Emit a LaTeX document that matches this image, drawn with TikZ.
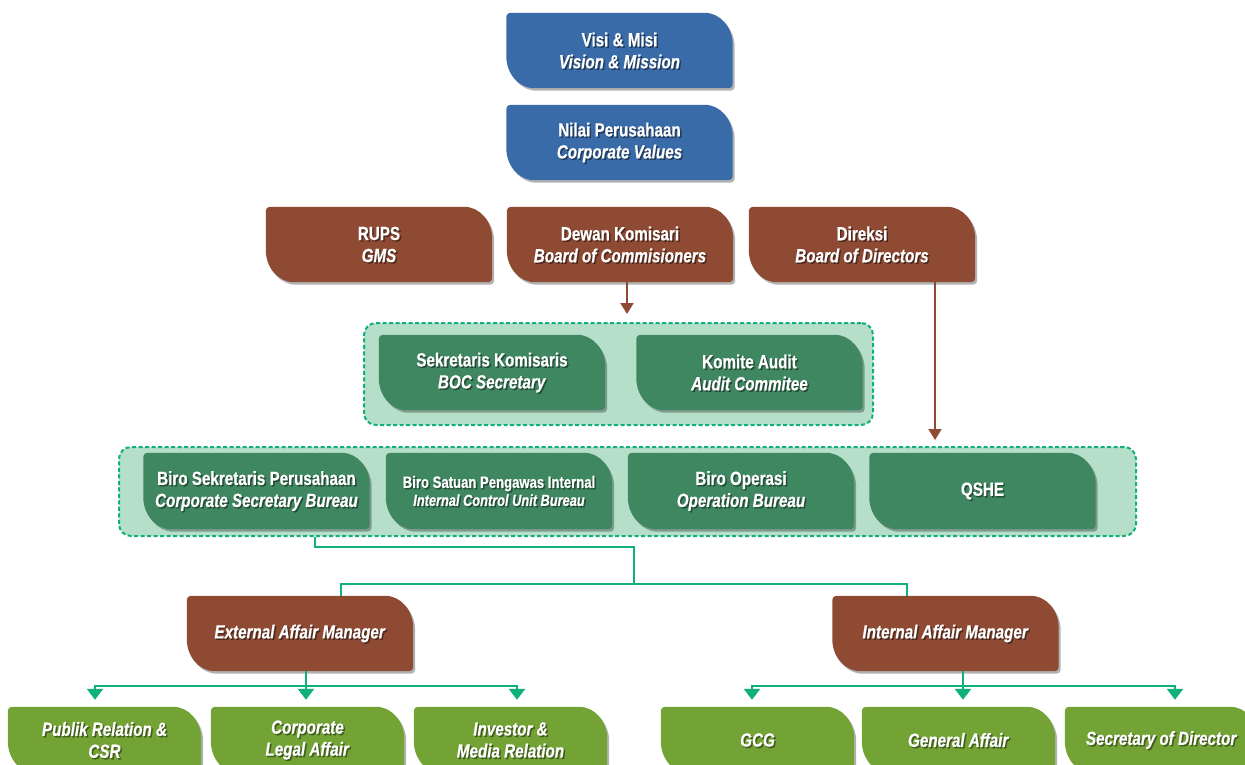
\documentclass[tikz,border=0pt]{standalone}
\usepackage{fontspec}
\setmainfont{Liberation Sans}[FakeStretch=0.80,BoldFeatures={FakeBold=0.6},BoldItalicFeatures={FakeBold=0.6}]
\usetikzlibrary{shadows,arrows.meta,calc}
\definecolor{cblue}{HTML}{3A6BA9}
\definecolor{cbrown}{HTML}{8F4A34}
\definecolor{cdgreen}{HTML}{3F8761}
\definecolor{clgreen}{HTML}{72A334}
\definecolor{cline}{HTML}{10B07A}
\definecolor{cgroup}{HTML}{B5DFC9}
\pgfdeclarelayer{grp}\pgfdeclarelayer{shape}
\pgfsetlayers{grp,shape,main}
\newcommand\leaf[2]{%
\fill[#2, drop shadow={shadow xshift=2pt,shadow yshift=-2.5pt,opacity=0.3,fill=black}]
 let \p1=(#1.north west), \p2=(#1.south east) in
 ({\x1+4pt},\y1) -- ({\x2-28pt},\y1) .. controls ({\x2-12.5pt},\y1) and (\x2,{\y1-14.5pt}) .. (\x2,{\y1-32pt})
 -- (\x2,{\y2+4pt}) .. controls (\x2,{\y2+1.8pt}) and ({\x2-1.8pt},\y2) .. ({\x2-4pt},\y2)
 -- ({\x1+28pt},\y2) .. controls ({\x1+12.5pt},\y2) and (\x1,{\y2+14.5pt}) .. (\x1,{\y2+32pt})
 -- (\x1,{\y1-4pt}) .. controls (\x1,{\y1-1.8pt}) and ({\x1+1.8pt},\y1) .. ({\x1+4pt},\y1) -- cycle;}
% #1 options, #2 name, #3 position, #4 colour, #5 text
\newcommand\bx[5][]{%
 \node[box,#1] (#2) at #3 {#5};
 \begin{pgfonlayer}{shape}
 \leaf{#2}{#4}
 \node[box,#1,text=black,text opacity=0.4] (#2-s) at ([shift={(1.5pt,-1.5pt)}]#2.center) {#5};
 \end{pgfonlayer}}
\tikzset{
 box/.style={minimum width=226pt, minimum height=75pt, inner sep=0pt, align=center, text=white,
   font=\bfseries\fontsize{19}{22}\selectfont},
 sbox/.style={minimum width=193pt, minimum height=66pt},
 tall/.style={minimum height=76pt},
 grpbox/.style={draw=cline, fill=cgroup, line width=2pt, dash pattern=on 4pt off 2.5pt,
   rounded corners=12pt, inner sep=0pt},
 brarrow/.style={draw=cbrown, line width=2pt, -{Triangle[width=13pt,length=11pt]}},
 gline/.style={draw=cline, line width=2.5pt},
 garrow/.style={gline, -{Triangle[width=16pt,length=11pt]}, shorten >=7pt},
}
\begin{document}
\begin{tikzpicture}[x=1pt,y=-1pt]
\useasboundingbox (0,0) rectangle (1245,765);
\begin{pgfonlayer}{grp}
\node[grpbox, minimum width=509pt, minimum height=102pt] (g1) at (618.5,374) {};
\node[grpbox, minimum width=1017pt, minimum height=89pt] (g2) at (627.5,491.5) {};
\end{pgfonlayer}
% blue
\bx{vm}{(619.5,50.5)}{cblue}{Visi \& Misi\\\textit{Vision \& Mission}}
\bx{nv}{(619.5,142.5)}{cblue}{Nilai Perusahaan\\\textit{Corporate Values}}
% brown
\bx{rups}{(379,244.5)}{cbrown}{RUPS\\\textit{GMS}}
\bx{dk}{(620,244.5)}{cbrown}{Dewan Komisari\\\textit{Board of Commisioners}}
\bx{dr}{(862,244.5)}{cbrown}{Direksi\\\textit{Board of Directors}}
% group 1
\bx{sk}{(492,372.5)}{cdgreen}{Sekretaris Komisaris\\\textit{BOC Secretary}}
\bx{ka}{(749.5,372.5)}{cdgreen}{Komite Audit\\\textit{Audit Commitee}}
% group 2
\bx[tall]{bs}{(256.5,491)}{cdgreen}{Biro Sekretaris Perusahaan\\\textit{Corporate Secretary Bureau}}
\bx[tall, font=\bfseries\fontsize{16.4}{18}\selectfont]{bsp}{(499,491)}{cdgreen}{Biro Satuan Pengawas Internal\\\textit{\fontsize{16}{18}\selectfont Internal Control Unit Bureau}}
\bx[tall]{bo}{(741,491)}{cdgreen}{Biro Operasi\\\textit{Operation Bureau}}
\bx[tall]{qs}{(982.5,491)}{cdgreen}{QSHE}
% managers
\bx{em}{(300,633.5)}{cbrown}{\textit{External Affair Manager}}
\bx{im}{(945.5,633.5)}{cbrown}{\textit{Internal Affair Manager}}
% bottom
\bx[sbox]{pr}{(104.5,740)}{clgreen}{\textit{Publik Relation \&}\\\textit{CSR}}
\bx[sbox]{cl}{(307.5,740)}{clgreen}{\textit{Corporate}\\\textit{Legal Affair}}
\bx[sbox]{ir}{(510.5,740)}{clgreen}{\textit{Investor \&}\\\textit{Media Relation}}
\bx[sbox]{gcg}{(757.5,740)}{clgreen}{\textit{GCG}}
\bx[sbox]{ga}{(958.5,740)}{clgreen}{\textit{General Affair}}
\bx[sbox]{sd}{(1161.5,740)}{clgreen}{\textit{Secretary of Director}}
% brown arrows
\draw[brarrow, shorten >=8pt] ([xshift=7pt]dk.south) -- ([xshift=7pt]dk.south |- g1.north);
\draw[brarrow, shorten >=6pt] ([xshift=73pt]dr.south) -- ([xshift=73pt]dr.south |- g2.north);
% green connectors
\coordinate (j1) at (634,584);
\draw[gline] ([xshift=-312.5pt]g2.south) -- ++(0,10) -| (j1);
\draw[gline] ([xshift=41pt]em.north) |- (j1) -| ([xshift=-38.5pt]im.north);
\coordinate (e1) at (306,686);
\coordinate (i1) at (963,686);
\draw[gline] ([xshift=6pt]em.south) -- (e1);
\draw[gline] ([xshift=17.5pt]im.south) -- (i1);
\draw[garrow] (e1) -| ([xshift=-9.5pt]pr.north);
\draw[garrow] (e1) -- (e1 |- cl.north);
\draw[garrow] (e1) -| ([xshift=6.5pt]ir.north);
\draw[garrow] (i1) -| ([xshift=-5.5pt]gcg.north);
\draw[garrow] (i1) -- (i1 |- ga.north);
\draw[garrow] (i1) -| ([xshift=13.5pt]sd.north);
\end{tikzpicture}
\end{document}
